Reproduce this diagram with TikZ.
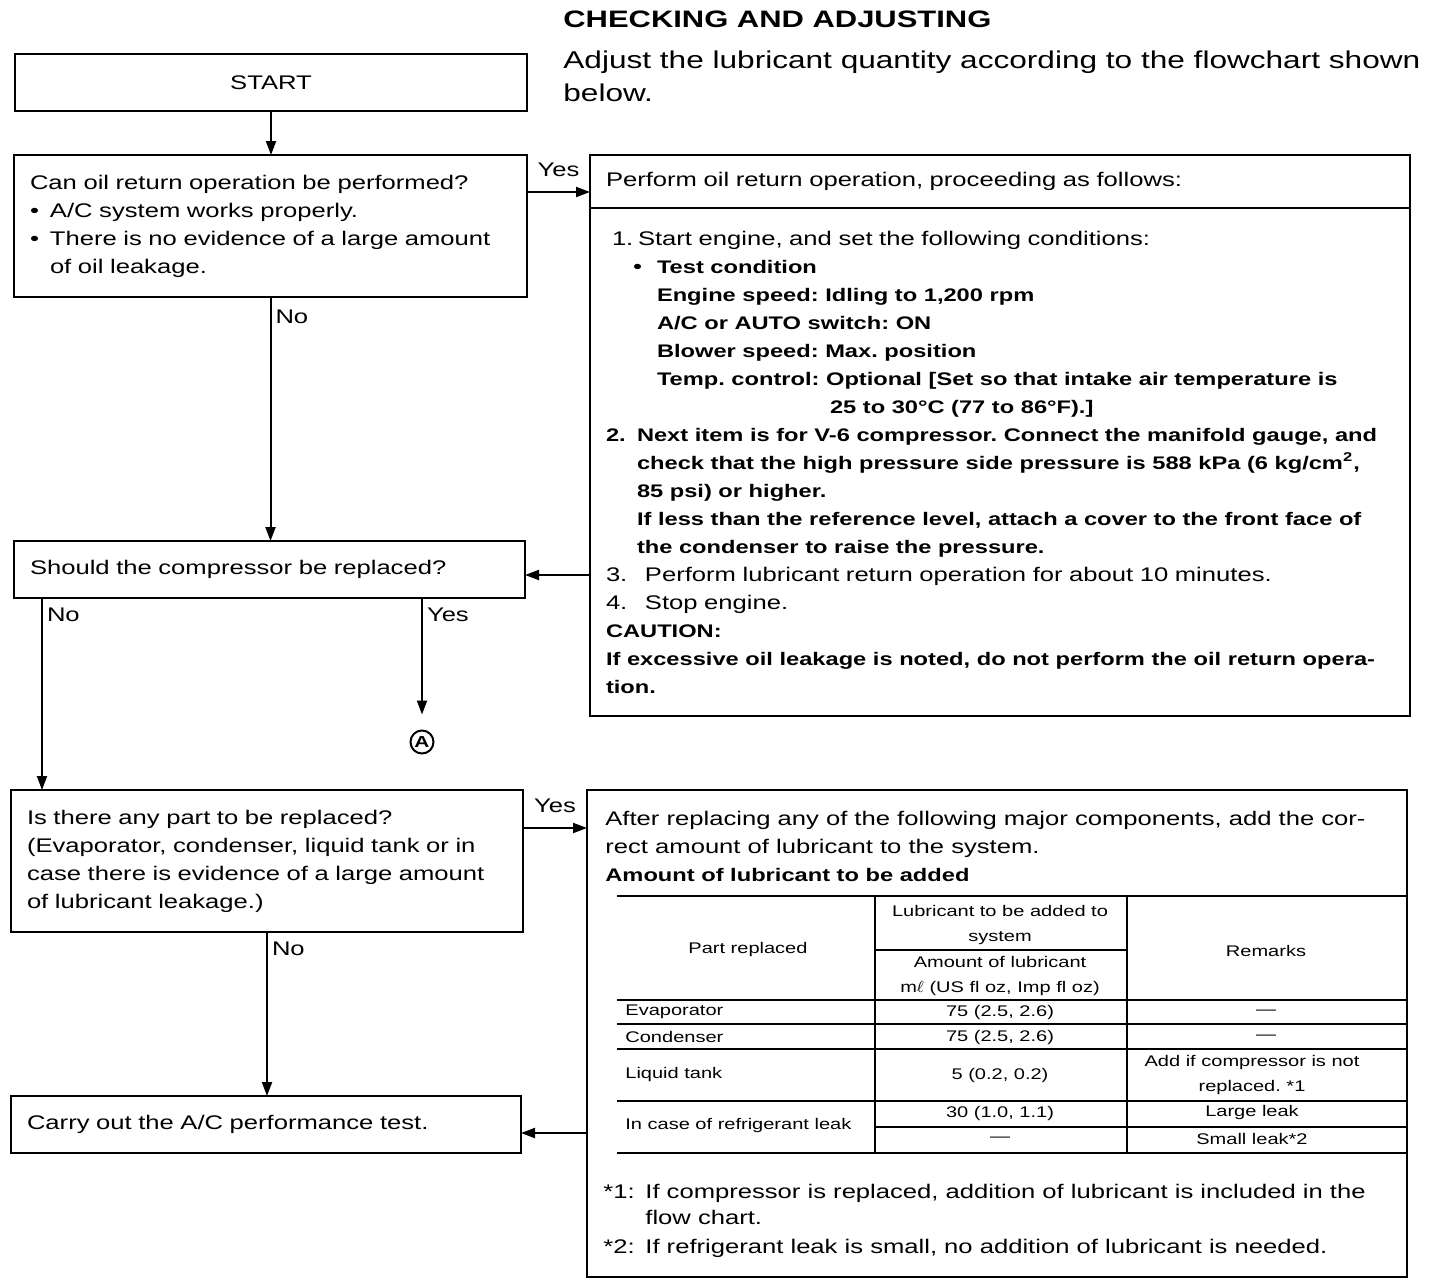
\documentclass[tikz,border=0pt]{standalone}
\usepackage{fontspec}
\setmainfont{Liberation Sans}[FakeStretch=1.3]
\usetikzlibrary{positioning,arrows.meta}

\newcommand{\nf}{\fontsize{9.85pt}{14pt}\selectfont}
\newcommand{\bt}[1]{{\bfseries\fontsize{9.1pt}{14pt}\selectfont #1}}
\newcommand{\tf}{\fontsize{7.7pt}{12.5pt}\selectfont}
\frenchspacing

\begin{document}
\begin{tikzpicture}[x=0.5pt,y=-0.5pt]
  \tikzstyle{box} = [draw,line width=1.4pt,anchor=north west,outer sep=0pt,inner xsep=8pt,align=left,font=\nf]
  \tikzstyle{arr} = [line width=1pt,-{Triangle[length=7pt,width=5pt]}]
  \tikzstyle{lbl} = [font=\nf,inner sep=2pt]
  \tikzstyle{cell} = [font=\tf,inner sep=0pt,align=center]
  \useasboundingbox (0,0) rectangle (1440,1286);

  % heading
  \node[anchor=base west,inner sep=0pt,font=\bfseries\fontsize{11.9pt}{14pt}\selectfont] (title) at (563,27) {CHECKING AND ADJUSTING};
  \node[anchor=base west,inner sep=0pt,align=left,font=\fontsize{12.15pt}{16.5pt}\selectfont] (intro) at (563,101)
    {Adjust the lubricant quantity according to the flowchart shown\\below.};

  % left column
  \node[box,minimum width=256pt,minimum height=28.5pt,align=center] (start) at (15,54) {START};
  \node[box,minimum width=256.5pt,minimum height=71pt,text width=240.5pt] (q1) at (14,155)
    {Can oil return operation be performed?\\
     \makebox[10pt][l]{\textbullet}A/C system works properly.\\
     \makebox[10pt][l]{\textbullet}There is no evidence of a large amount\\
     \hspace*{10pt}of oil leakage.};
  \node[box,minimum width=255.5pt,minimum height=28.5pt,text width=239.5pt] (q2) at (14,541)
    {Should the compressor be replaced?};
  \node[box,minimum width=256pt,minimum height=71pt,text width=240pt] (q3) at (11,790)
    {Is there any part to be replaced?\\
     (Evaporator, condenser, liquid tank or in\\
     case there is evidence of a large amount\\
     of lubricant leakage.)};
  \node[box,minimum width=255pt,minimum height=28.5pt,text width=239pt] (test) at (11,1096)
    {Carry out the A/C performance test.};
  \node[circle,draw,line width=1pt,minimum size=11.5pt,inner sep=0pt,font=\bfseries\fontsize{8pt}{8pt}\selectfont] (A) at (422,742) {A};

  % right column
  \node[box,minimum width=410pt,minimum height=26.5pt,text width=394pt] (ophead) at (590,155)
    {Perform oil return operation, proceeding as follows:};
  \node[box,minimum width=410pt,minimum height=254pt,text width=394pt] (opbody) at (590,208)
    {\hspace*{3pt}\makebox[13pt][l]{1.}Start engine, and set the following conditions:\\
     \hspace*{13.5pt}\makebox[12pt][l]{\textbullet}\bt{Test condition}\\
     \hspace*{25.5pt}\bt{Engine speed: Idling to 1,200 rpm}\\
     \hspace*{25.5pt}\bt{A/C or AUTO switch: ON}\\
     \hspace*{25.5pt}\bt{Blower speed: Max. position}\\
     \hspace*{25.5pt}\bt{Temp. control: Optional [Set so that intake air temperature is}\\
     \hspace*{112pt}\bt{25 to 30°C (77 to 86°F).]}\\
     \makebox[15.5pt][l]{\bt{2.}}\bt{Next item is for V-6 compressor. Connect the manifold gauge, and}\\
     \hspace*{15.5pt}\bt{check that the high pressure side pressure is 588 kPa (6 kg/cm\textsuperscript{2},}\\
     \hspace*{15.5pt}\bt{85 psi) or higher.}\\
     \hspace*{15.5pt}\bt{If less than the reference level, attach a cover to the front face of}\\
     \hspace*{15.5pt}\bt{the condenser to raise the pressure.}\\
     \makebox[19.5pt][l]{3.}Perform lubricant return operation for about 10 minutes.\\
     \makebox[19.5pt][l]{4.}Stop engine.\\
     \bt{CAUTION:}\\
     \bt{If excessive oil leakage is noted, do not perform the oil return opera-}\\
     \bt{tion.}};
  \node[box,minimum width=410pt,minimum height=243.5pt] (add) at (587,790) {};
  \node[anchor=base west,inner sep=0pt,align=left,font=\nf] (addtxt) at (605,881)
    {After replacing any of the following major components, add the cor-\\
     rect amount of lubricant to the system.\\
     \bt{Amount of lubricant to be added}};

  % lubricant table
  \draw[line width=1.4pt] (617,896) -- (1407,896);
  \draw[line width=1.4pt] (617,1153) -- (1407,1153);
  \foreach \y in {1000,1024,1049,1101}
    \draw[line width=1pt] (617,\y) -- (1407,\y);
  \draw[line width=1pt] (875,1127) -- (1407,1127);
  \draw[line width=1pt] (875,950) -- (1127,950);
  \draw[line width=1pt] (875,896) -- (875,1153);
  \draw[line width=1pt] (1127,896) -- (1127,1153);
  \node[cell] (hpart) at (748,950) {Part replaced};
  \node[cell] (hsys) at (1000,925) {Lubricant to be added to\\system};
  \node[cell] (hamt) at (1000,976) {Amount of lubricant\\m$\ell$ (US fl oz, Imp fl oz)};
  \node[cell] (hrem) at (1266,951) {Remarks};
  \node[cell,anchor=west] (evap) at (625,1012) {Evaporator};
  \node[cell] (evapv) at (1000,1012) {75 (2.5, 2.6)};
  \node[cell] (evapr) at (1266,1012) {—};
  \node[cell,anchor=west] (cond) at (625,1037) {Condenser};
  \node[cell] (condv) at (1000,1037) {75 (2.5, 2.6)};
  \node[cell] (condr) at (1266,1037) {—};
  \node[cell,anchor=west] (tank) at (625,1075) {Liquid tank};
  \node[cell] (tankv) at (1000,1075) {5 (0.2, 0.2)};
  \node[cell] (tankr) at (1252,1075) {Add if compressor is not\\replaced. *1};
  \node[cell,anchor=west] (leak) at (625,1126) {In case of refrigerant leak};
  \node[cell] (leakv) at (1000,1113) {30 (1.0, 1.1)};
  \node[cell] (leakr) at (1252,1113) {Large leak};
  \node[cell] (smallv) at (1000,1139) {—};
  \node[cell] (smallr) at (1252,1139) {Small leak*2};

  \node[anchor=base west,inner sep=0pt,align=left,font=\fontsize{9.85pt}{13pt}\selectfont] (notes) at (603,1253)
    {\makebox[21pt][l]{*1:}If compressor is replaced, addition of lubricant is included in the\\
     \hspace*{21pt}flow chart.\\[1.5pt]
     \makebox[21pt][l]{*2:}If refrigerant leak is small, no addition of lubricant is needed.};

  % connectors
  \coordinate (yes1) at (0,192);
  \coordinate (ret1) at (0,575);
  \coordinate (nox) at (42,0);
  \coordinate (yesx) at (422,0);
  \coordinate (yes3) at (0,828);
  \coordinate (ret2) at (0,1133);
  \draw[arr] (start.south) -- (start.south |- q1.north);
  \draw[arr] (q1.east |- yes1) -- node[lbl,above=5pt] (y1) {Yes} (ophead.west |- yes1);
  \draw[arr] (q1.south) -- node[lbl,right,pos=0.08] (n1) {No} (q1.south |- q2.north);
  \draw[arr] (opbody.west |- ret1) -- (q2.east |- ret1);
  \draw[arr] (nox |- q2.south) -- node[lbl,right,pos=0.09] (n2) {No} (nox |- q3.north);
  \draw[arr,shorten >=7.5pt] (yesx |- q2.south) -- node[lbl,right,pos=0.13] (y2) {Yes} (A.north);
  \draw[arr] (q3.east |- yes3) -- node[lbl,above=5pt] (y3) {Yes} (add.west |- yes3);
  \draw[arr] (q3.south) -- node[lbl,right,pos=0.1] (n3) {No} (q3.south |- test.north);
  \draw[arr] (add.west |- ret2) -- (test.east |- ret2);
\end{tikzpicture}
\end{document}
